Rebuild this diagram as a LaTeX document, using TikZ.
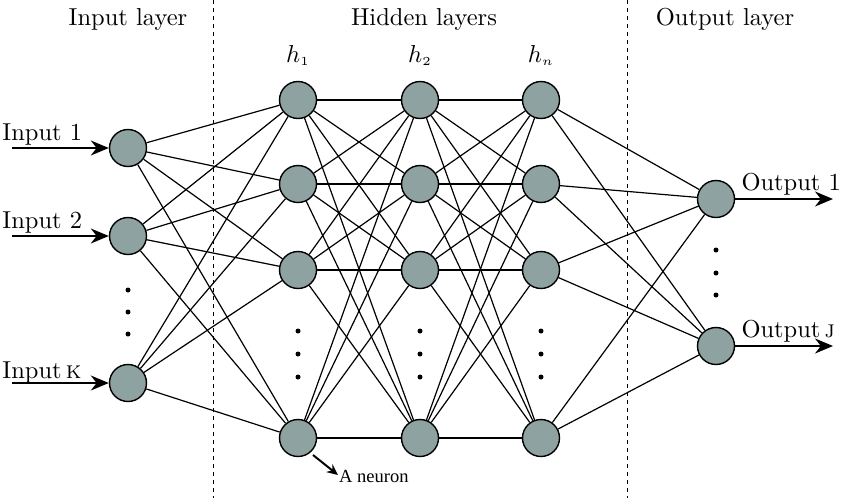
\documentclass[tikz,border=0pt]{standalone}
\usepackage{fontspec}
\newfontfamily\timesf{Liberation Serif}
\usetikzlibrary{arrows.meta}
\definecolor{neuron}{RGB}{142,162,162}
\begin{document}
\begin{tikzpicture}[x=1pt,y=-1pt,
  neur/.style={circle,draw=black,line width=1.4pt,fill=neuron,minimum size=37pt,inner sep=0pt},
  conn/.style={line width=1.2pt},
  io/.style={line width=1.6pt,-{Stealth[length=18pt,width=15pt]}},
  lbl/.style={font=\fontsize{10}{12}\selectfont,scale=2.45,transform shape,inner sep=0pt},
  dot/.style={circle,fill=black,inner sep=0pt,minimum size=5pt}]
\useasboundingbox (0,0) rectangle (850,498);
% dividers
\draw[line width=1pt,dash pattern=on 4pt off 4pt] (213,0) -- (213,498);
\draw[line width=1pt,dash pattern=on 4pt off 4pt] (627,0) -- (627,498);
% titles
\node[lbl,anchor=base] (tin) at (128,25) {Input layer};
\node[lbl,anchor=base] (thid) at (424,25) {Hidden layers};
\node[lbl,anchor=base] (tout) at (725,25) {Output layer};
% nodes
\node[neur] (i1) at (128,148) {};
\node[neur] (i2) at (128,236) {};
\node[neur] (ik) at (128,383) {};
\foreach \x/\n in {298/a,420/b,541/c}{
  \node[neur] (\n1) at (\x,100) {};
  \node[neur] (\n2) at (\x,184) {};
  \node[neur] (\n3) at (\x,270) {};
  \node[neur] (\n4) at (\x,438) {};
  \node[dot] (\n d1) at (\x,331) {};
  \node[dot] (\n d2) at (\x,354) {};
  \node[dot] (\n d3) at (\x,377) {};
}
\node[dot] (id1) at (128,290) {};
\node[dot] (id2) at (128,312) {};
\node[dot] (id3) at (128,334) {};
\node[neur] (o1) at (716,199) {};
\node[neur] (oj) at (716,346) {};
\node[dot] (od1) at (716,250) {};
\node[dot] (od2) at (716,273) {};
\node[dot] (od3) at (716,295) {};
% hidden labels
\node[lbl,anchor=base] (h1) at (298,62) {$h_{\scriptscriptstyle 1}$};
\node[lbl,anchor=base] (h2) at (420,62) {$h_{\scriptscriptstyle 2}$};
\node[lbl,anchor=base] (hn) at (541,62) {$h_{\scriptscriptstyle n}$};
% connections
\foreach \s in {i1,i2,ik}{\foreach \t in {a1,a2,a3,a4}{\draw[conn] (\s) -- (\t);}}
\foreach \s in {a1,a2,a3,a4}{\foreach \t in {b1,b2,b3,b4}{\draw[conn] (\s) -- (\t);}}
\foreach \s in {b1,b2,b3,b4}{\foreach \t in {c1,c2,c3,c4}{\draw[conn] (\s) -- (\t);}}
\foreach \s in {c1,c2,c3,c4}{\foreach \t in {o1,oj}{\draw[conn] (\s) -- (\t);}}
% inputs
\coordinate (s1) at (12,148);
\coordinate (s2) at (12,236);
\coordinate (sk) at (12,383);
\draw[io] (s1) -- (i1);
\draw[io] (s2) -- (i2);
\draw[io] (sk) -- (ik);
\node[lbl,anchor=base west] (l1) at (2,140) {Input 1};
\node[lbl,anchor=base west] (l2) at (2,228) {Input 2};
\node[lbl,anchor=base west] (lk) at (2,378) {Input\,\textsc{k}};
% outputs
\coordinate (e1) at (833,199);
\coordinate (ej) at (833,346);
\draw[io] (o1) -- (e1);
\draw[io] (oj) -- (ej);
\node[lbl,anchor=base west] (m1) at (741,190) {Output 1};
\node[lbl,anchor=base west] (mj) at (741,337) {Output\,\textsc{j}};
% neuron pointer
\node[font=\timesf\fontsize{18.5}{22}\selectfont,anchor=base west,inner sep=0pt] (an) at (339,482) {A neuron};
\coordinate (ap) at (338,475);
\coordinate (aq) at (313,455);
\draw[line width=2pt,-{Stealth[length=11pt,width=10pt]}] (aq) -- (ap);
\end{tikzpicture}
\end{document}
